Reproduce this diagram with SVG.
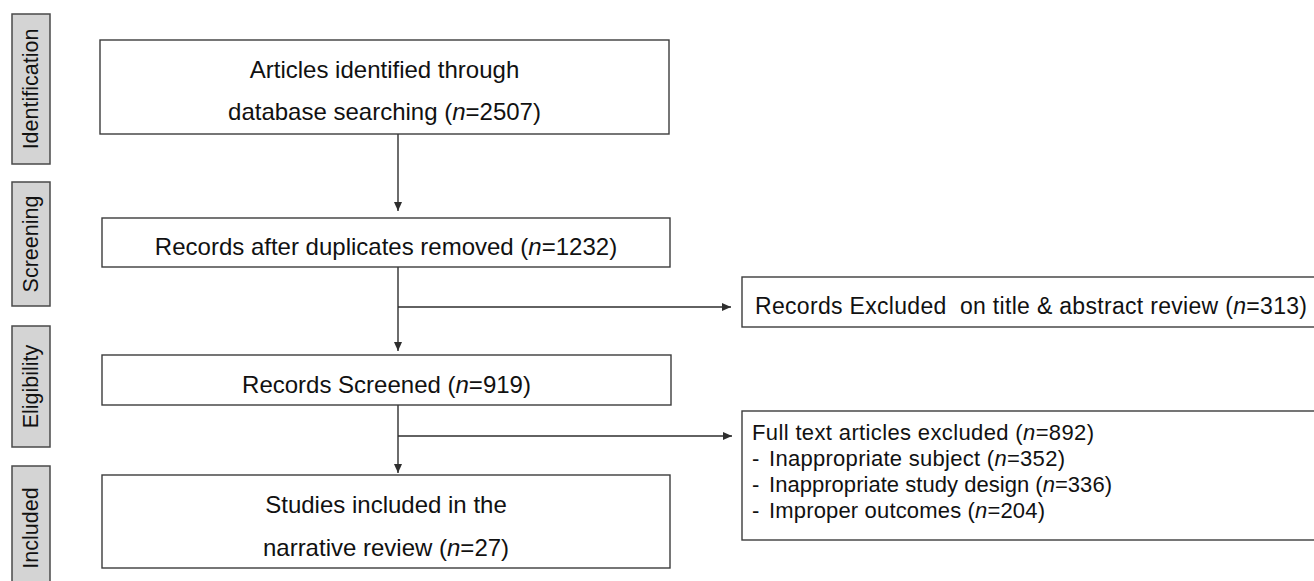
<svg xmlns="http://www.w3.org/2000/svg" width="1314" height="581" viewBox="0 0 1314 581">
<style>
.bg{fill:#ffffff}
.box{fill:#ffffff;stroke:#3c3c3c;stroke-width:1.4}
.lab{fill:#d4d4d4;stroke:#4a4a4a;stroke-width:1.5}
.t{font-family:"Liberation Sans",Arial,sans-serif;font-size:24px;fill:#111}
.tm{text-anchor:middle}
.ts{font-family:"Liberation Sans",Arial,sans-serif;font-size:22px;fill:#111}
.lt{font-family:"Liberation Sans",Arial,sans-serif;font-size:21.5px;fill:#111;text-anchor:middle}
.i{font-style:italic}
.c{stroke:#2e2e2e;stroke-width:1.4;fill:none;marker-end:url(#ah)}
</style>
<defs>
<marker id="ah" markerUnits="userSpaceOnUse" markerWidth="9" markerHeight="8" refX="9" refY="4" orient="auto">
<path d="M0,0 L9,4 L0,8 z" fill="#2e2e2e"/>
</marker>
</defs>
<rect class="bg" x="0" y="0" width="1314" height="581"/>

<g id="phase-identification">
<rect class="lab" x="12" y="14" width="38" height="150"/>
<text class="lt" transform="translate(38,89) rotate(-90)">Identification</text>
</g>
<g id="phase-screening">
<rect class="lab" x="12" y="182" width="38" height="124"/>
<text class="lt" transform="translate(38,244) rotate(-90)">Screening</text>
</g>
<g id="phase-eligibility">
<rect class="lab" x="12" y="326" width="38" height="121"/>
<text class="lt" transform="translate(38,386.5) rotate(-90)">Eligibility</text>
</g>
<g id="phase-included">
<rect class="lab" x="12" y="466" width="38" height="124"/>
<text class="lt" transform="translate(38,528) rotate(-90)">Included</text>
</g>

<g id="connectors">
<line class="c" x1="398" y1="134" x2="398" y2="211"/>
<line class="c" x1="398" y1="267" x2="398" y2="351"/>
<line class="c" x1="398" y1="307" x2="731" y2="307"/>
<line class="c" x1="398" y1="405" x2="398" y2="473"/>
<line class="c" x1="398" y1="436" x2="732" y2="436"/>
</g>

<g id="identified">
<rect class="box" x="100" y="40" width="569" height="94"/>
<text class="t tm" x="384.5" y="78">Articles identified through</text>
<text class="t tm" x="384.5" y="120">database searching (<tspan class="i">n</tspan>=2507)</text>
</g>
<g id="after-duplicates">
<rect class="box" x="102" y="218" width="568" height="49"/>
<text class="t tm" x="386" y="255">Records after duplicates removed (<tspan class="i">n</tspan>=1232)</text>
</g>
<g id="screened">
<rect class="box" x="102" y="355" width="569" height="50"/>
<text class="t tm" x="386.5" y="393">Records Screened (<tspan class="i">n</tspan>=919)</text>
</g>
<g id="included">
<rect class="box" x="102" y="475" width="568" height="93"/>
<text class="t tm" x="386" y="513">Studies included in the</text>
<text class="t tm" x="386" y="556">narrative review (<tspan class="i">n</tspan>=27)</text>
</g>
<g id="excluded-title">
<rect class="box" x="742" y="277" width="580" height="50"/>
<text class="t" x="755" y="314" style="font-size:23px" textLength="552" lengthAdjust="spacing" xml:space="preserve">Records Excluded  on title &amp; abstract review (<tspan class="i">n</tspan>=313)</text>
</g>
<g id="excluded-fulltext">
<rect class="box" x="742" y="411" width="580" height="129"/>
<text class="ts" x="752" y="440" textLength="342" lengthAdjust="spacing">Full text articles excluded (<tspan class="i">n</tspan>=892)</text>
<text class="ts" x="752" y="466">-</text>
<text class="ts" x="769" y="466" textLength="296" lengthAdjust="spacing">Inappropriate subject (<tspan class="i">n</tspan>=352)</text>
<text class="ts" x="752" y="492">-</text>
<text class="ts" x="769" y="492" textLength="343" lengthAdjust="spacing">Inappropriate study design (<tspan class="i">n</tspan>=336)</text>
<text class="ts" x="752" y="518">-</text>
<text class="ts" x="769" y="518" textLength="276" lengthAdjust="spacing">Improper outcomes (<tspan class="i">n</tspan>=204)</text>
</g>
</svg>
